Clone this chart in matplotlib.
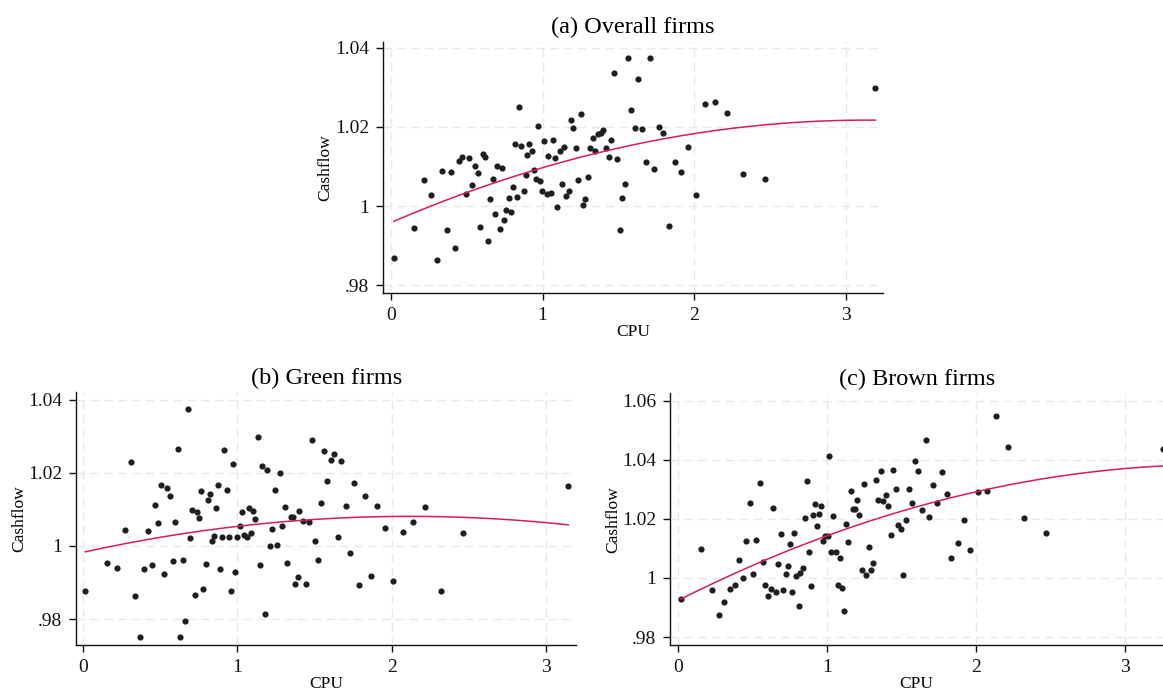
import numpy as np
import matplotlib
matplotlib.use("Agg")
import matplotlib.pyplot as plt

plt.rcParams['font.family'] = ['Liberation Serif', 'DejaVu Serif']

# ---------------- data ----------------
cpu_a = [0.018, 0.152, 0.220, 0.266, 0.304, 0.339, 0.367, 0.396, 0.420, 0.447,
         0.471, 0.493, 0.515, 0.532, 0.552, 0.572, 0.590, 0.605, 0.620, 0.640,
         0.656, 0.671, 0.689, 0.702, 0.717, 0.733, 0.748, 0.762, 0.777, 0.792,
         0.808, 0.818, 0.834, 0.845, 0.858, 0.876, 0.889, 0.900, 0.913, 0.929,
         0.942, 0.957, 0.968, 0.983, 0.999, 1.012, 1.028, 1.038, 1.056, 1.069,
         1.085, 1.098, 1.113, 1.129, 1.144, 1.157, 1.175, 1.190, 1.203, 1.219,
         1.236, 1.252, 1.267, 1.283, 1.300, 1.316, 1.333, 1.349, 1.366, 1.384,
         1.399, 1.417, 1.437, 1.454, 1.470, 1.490, 1.509, 1.527, 1.547, 1.567,
         1.586, 1.611, 1.633, 1.657, 1.683, 1.708, 1.736, 1.767, 1.798, 1.833,
         1.873, 1.914, 1.960, 2.013, 2.075, 2.139, 2.216, 2.321, 2.471, 3.197]
cash_a = [0.9868, 0.9945, 1.0065, 1.0027, 0.9865, 1.0089, 0.9939, 1.0086, 0.9895, 1.0115,
          1.0125, 1.0030, 1.0122, 1.0053, 1.0101, 1.0083, 0.9948, 1.0132, 1.0123, 0.9913,
          1.0019, 1.0069, 0.9980, 1.0101, 0.9943, 1.0095, 0.9965, 0.9989, 1.0021, 0.9986,
          1.0049, 1.0158, 1.0024, 1.0251, 1.0152, 1.0038, 1.0079, 1.0128, 1.0158, 1.0140,
          1.0090, 1.0069, 1.0202, 1.0063, 1.0037, 1.0164, 1.0031, 1.0127, 1.0034, 1.0168,
          1.0122, 0.9999, 1.0140, 1.0057, 1.0149, 1.0025, 1.0038, 1.0217, 1.0197, 1.0147,
          1.0066, 1.0232, 1.0003, 1.0019, 1.0073, 1.0147, 1.0172, 1.0138, 1.0181, 1.0184,
          1.0192, 1.0146, 1.0123, 1.0167, 1.0337, 1.0118, 0.9939, 1.0021, 1.0056, 1.0374,
          1.0243, 1.0196, 1.0320, 1.0194, 1.0111, 1.0374, 1.0094, 1.0199, 1.0184, 0.9951,
          1.0111, 1.0087, 1.0149, 1.0029, 1.0259, 1.0262, 1.0235, 1.0081, 1.0068, 1.0299]

cpu_b = [0.013, 0.152, 0.216, 0.268, 0.307, 0.337, 0.370, 0.396, 0.422, 0.446,
         0.465, 0.487, 0.506, 0.525, 0.545, 0.562, 0.580, 0.597, 0.614, 0.629,
         0.644, 0.662, 0.677, 0.692, 0.707, 0.722, 0.735, 0.750, 0.765, 0.778,
         0.794, 0.807, 0.820, 0.833, 0.848, 0.861, 0.874, 0.887, 0.902, 0.912,
         0.930, 0.943, 0.956, 0.971, 0.986, 0.999, 1.014, 1.031, 1.044, 1.060,
         1.072, 1.090, 1.103, 1.116, 1.131, 1.148, 1.161, 1.178, 1.193, 1.211,
         1.226, 1.243, 1.258, 1.274, 1.291, 1.308, 1.323, 1.345, 1.362, 1.371,
         1.390, 1.401, 1.427, 1.444, 1.464, 1.483, 1.503, 1.522, 1.544, 1.563,
         1.583, 1.604, 1.628, 1.652, 1.673, 1.702, 1.727, 1.758, 1.790, 1.827,
         1.864, 1.907, 1.959, 2.010, 2.073, 2.140, 2.214, 2.318, 2.464, 3.145]
cash_b = [0.9878, 0.9954, 0.9941, 1.0043, 1.0229, 0.9864, 0.9751, 0.9936, 1.0041, 0.9947,
          1.0112, 1.0063, 1.0166, 0.9923, 1.0159, 1.0136, 0.9960, 1.0067, 1.0265, 0.9752,
          0.9962, 0.9795, 1.0374, 1.0021, 1.0099, 0.9867, 1.0093, 1.0078, 1.0152, 0.9882,
          0.9950, 1.0127, 1.0143, 1.0013, 1.0027, 1.0103, 1.0167, 0.9936, 1.0026, 1.0263,
          1.0154, 1.0025, 0.9878, 1.0225, 0.9929, 1.0025, 1.0056, 1.0093, 1.0030, 1.0025,
          1.0103, 1.0036, 1.0097, 1.0074, 1.0298, 0.9947, 1.0220, 0.9813, 1.0209, 1.0000,
          1.0047, 1.0154, 1.0004, 1.0200, 1.0054, 1.0108, 0.9953, 1.0079, 1.0079, 0.9896,
          0.9914, 1.0097, 1.0069, 0.9896, 1.0065, 1.0291, 1.0015, 0.9962, 1.0118, 1.0260,
          1.0178, 1.0236, 1.0251, 1.0025, 1.0233, 1.0110, 0.9982, 1.0173, 0.9894, 1.0136,
          0.9918, 1.0110, 1.0050, 0.9904, 1.0038, 1.0066, 1.0106, 0.9878, 1.0035, 1.0164]

cpu_c = [0.018, 0.154, 0.224, 0.271, 0.309, 0.345, 0.378, 0.405, 0.432, 0.454,
         0.481, 0.503, 0.523, 0.546, 0.566, 0.584, 0.604, 0.620, 0.638, 0.656,
         0.671, 0.689, 0.705, 0.721, 0.734, 0.748, 0.763, 0.776, 0.792, 0.808,
         0.819, 0.835, 0.850, 0.862, 0.875, 0.889, 0.906, 0.919, 0.933, 0.946,
         0.960, 0.973, 0.987, 1.003, 1.011, 1.023, 1.040, 1.056, 1.070, 1.083,
         1.099, 1.114, 1.128, 1.141, 1.157, 1.170, 1.188, 1.201, 1.215, 1.231,
         1.246, 1.262, 1.278, 1.293, 1.309, 1.325, 1.342, 1.360, 1.376, 1.394,
         1.409, 1.425, 1.443, 1.459, 1.477, 1.495, 1.510, 1.530, 1.548, 1.566,
         1.589, 1.611, 1.633, 1.660, 1.685, 1.711, 1.738, 1.768, 1.801, 1.832,
         1.875, 1.915, 1.958, 2.013, 2.070, 2.132, 2.211, 2.320, 2.470, 3.251]
cash_c = [0.9929, 1.0099, 0.9960, 0.9874, 0.9919, 0.9962, 0.9975, 1.0061, 1.0001, 1.0124,
          1.0253, 1.0015, 1.0129, 1.0320, 1.0053, 0.9975, 0.9939, 0.9962, 1.0236, 0.9952,
          1.0047, 1.0148, 0.9958, 1.0014, 1.0042, 1.0114, 0.9952, 1.0153, 1.0006, 0.9905,
          1.0018, 1.0033, 1.0204, 1.0328, 1.0087, 0.9973, 1.0213, 1.0249, 1.0176, 1.0216,
          1.0243, 1.0125, 1.0141, 1.0143, 1.0414, 1.0087, 1.0209, 1.0087, 0.9975, 1.0069,
          0.9966, 0.9889, 1.0184, 1.0122, 1.0294, 1.0232, 1.0232, 1.0263, 1.0213, 1.0026,
          1.0318, 1.0010, 1.0104, 1.0028, 1.0051, 1.0332, 1.0264, 1.0363, 1.0260, 1.0281,
          1.0245, 1.0147, 1.0364, 1.0300, 1.0180, 1.0166, 1.0010, 1.0196, 1.0302, 1.0254,
          1.0397, 1.0362, 1.0230, 1.0466, 1.0207, 1.0314, 1.0253, 1.0360, 1.0284, 1.0069,
          1.0119, 1.0195, 1.0095, 1.0292, 1.0293, 1.0549, 1.0442, 1.0202, 1.0153, 1.0436]

# quadratic-fit curve values (CPU, fitted Cashflow)
fit_a_x = [0.02, 1.0, 2.0, 3.2]
fit_a_y = [0.9962, 1.0097, 1.0183, 1.0217]
fit_b_x = [0.013, 1.0, 2.1, 3.145]
fit_b_y = [0.9984, 1.0054, 1.0081, 1.0058]
fit_c_x = [0.018, 1.0, 2.0, 3.251]
fit_c_y = [0.9929, 1.0143, 1.0292, 1.0379]

titles = ["(a) Overall firms", "(b) Green firms", "(c) Brown firms"]
xticks = [0, 1, 2, 3]
yticks_ab = [0.98, 1.00, 1.02, 1.04]
ylabels_ab = [".98", "1", "1.02", "1.04"]
yticks_c = [0.98, 1.00, 1.02, 1.04, 1.06]
ylabels_c = [".98", "1", "1.02", "1.04", "1.06"]

# ---------------- figure ----------------
W, H = 1163, 691
fig = plt.figure(figsize=(W / 100, H / 100), dpi=100)

def px_axes(l, t, r, b):
    return fig.add_axes([l / W, 1 - b / H, (r - l) / W, (b - t) / H])

DOT = '#1f1f1f'
LINE = '#d81b60'
GRID = '#e8e8e8'

def panel(ax, x, y, fx, fy, title, xlim, ylim, yt, yl):
    x = np.asarray(x); y = np.asarray(y)
    ax.set_xlim(*xlim)
    ax.set_ylim(*ylim)
    ax.set_xticks(xticks)
    ax.set_xticklabels([str(t) for t in xticks])
    ax.set_yticks(yt)
    ax.set_yticklabels(yl)
    ax.grid(True, color=GRID, linestyle=(0, (6, 4)), linewidth=1.0)
    ax.set_axisbelow(True)
    for s in ['top', 'right']:
        ax.spines[s].set_visible(False)
    for s in ['left', 'bottom']:
        ax.spines[s].set_linewidth(1.0)
        ax.spines[s].set_color('#111111')
    ax.tick_params(direction='out', length=5, width=1.0, labelsize=14,
                   colors='#111111', pad=5)
    ax.scatter(x, y, s=20, color=DOT, linewidths=0, zorder=3)
    coef = np.polyfit(fx, fy, 2)
    xs = np.linspace(x.min(), x.max(), 200)
    ax.plot(xs, np.polyval(coef, xs), color=LINE, linewidth=1.1, zorder=4)
    ax.set_title(title, fontsize=17.5, pad=6)
    ax.set_xlabel("CPU", fontsize=12.5, labelpad=0)
    ax.set_ylabel("Cashflow", fontsize=12.5, labelpad=1)

ax_a = px_axes(383, 41.7, 883, 293.3)
panel(ax_a, cpu_a, cash_a, fit_a_x, fit_a_y, titles[0], (-0.053, 3.247),
      (0.978, 1.0415), yticks_ab, ylabels_ab)
ax_b = px_axes(76.3, 392.3, 576, 645.3)
panel(ax_b, cpu_b, cash_b, fit_b_x, fit_b_y, titles[1], (-0.045, 3.195),
      (0.9728, 1.0421), yticks_ab, ylabels_ab)
ax_c = px_axes(670.3, 393.3, 1163, 645.3)
panel(ax_c, cpu_c, cash_c, fit_c_x, fit_c_y, titles[2], (-0.054, 3.253),
      (0.9772, 1.0625), yticks_c, ylabels_c)

fig.savefig("out.png", dpi=100, facecolor='white')
